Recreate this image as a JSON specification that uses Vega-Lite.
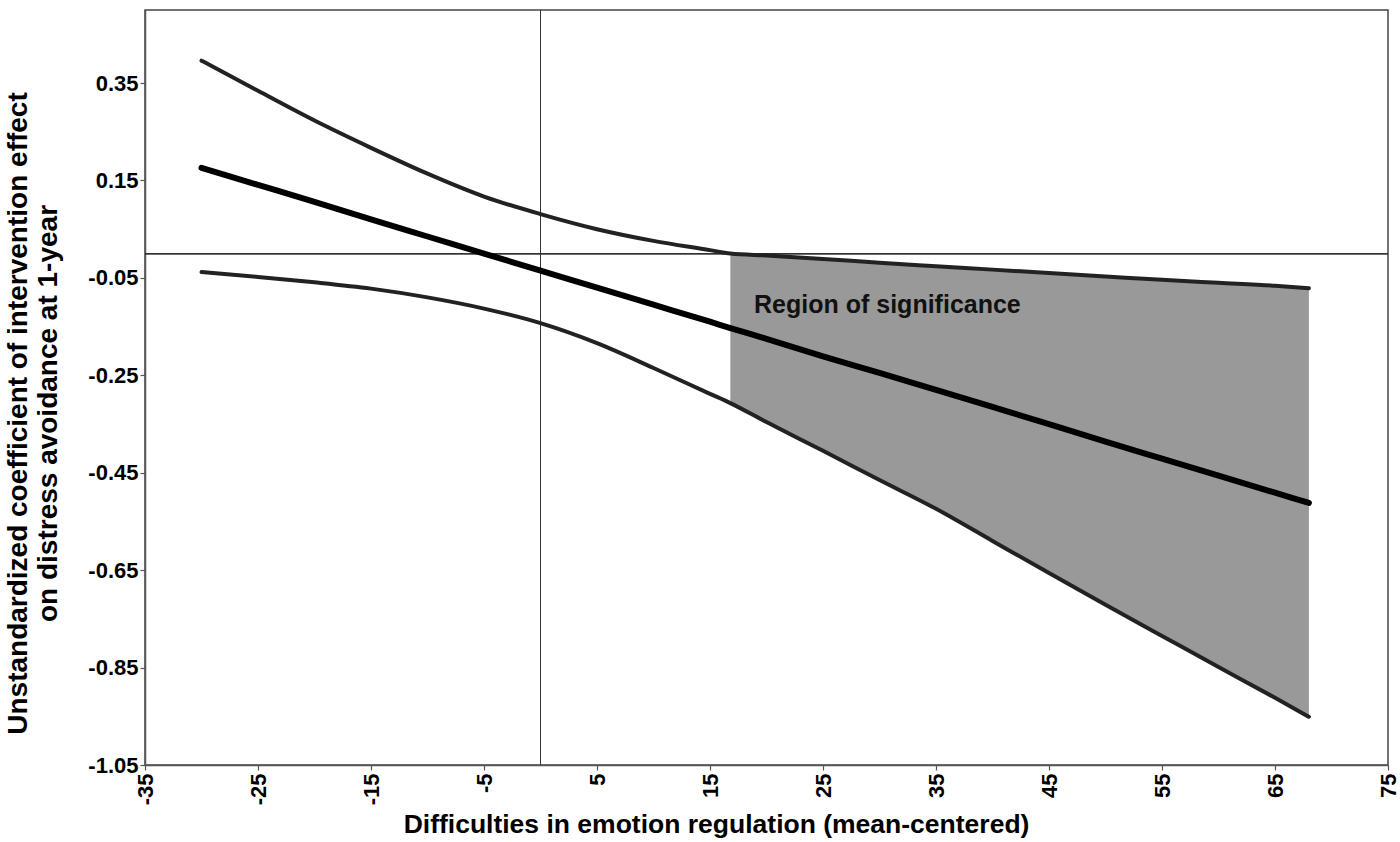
{
  "$schema": "https://vega.github.io/schema/vega-lite/v6.json",
  "width": 1243,
  "height": 755,
  "autosize": {"type": "none"},
  "padding": {"left": 145, "top": 10, "right": 12, "bottom": 77},
  "background": "white",
  "config": {
    "font": "Liberation Sans",
    "view": {"stroke": "#444", "strokeWidth": 1.5},
    "axis": {
      "grid": false,
      "domainColor": "#555",
      "domainWidth": 1.5,
      "tickColor": "#555",
      "tickWidth": 1.2,
      "tickSize": 5,
      "labelFont": "Liberation Sans",
      "labelFontWeight": "bold",
      "labelFontSize": 22,
      "labelColor": "black",
      "titleFont": "Liberation Sans",
      "titleFontWeight": "bold",
      "titleFontSize": 26.5,
      "titleColor": "black"
    }
  },
  "data": {
    "values": [
      {"x": -30, "center": 0.176, "lower": -0.038, "upper": 0.396},
      {"x": -25, "center": 0.141, "lower": -0.048, "upper": 0.334},
      {"x": -20, "center": 0.106, "lower": -0.059, "upper": 0.273},
      {"x": -15, "center": 0.070, "lower": -0.072, "upper": 0.217},
      {"x": -10, "center": 0.035, "lower": -0.090, "upper": 0.164},
      {"x": -5, "center": 0.000, "lower": -0.113, "upper": 0.117},
      {"x": 0, "center": -0.035, "lower": -0.143, "upper": 0.081},
      {"x": 5, "center": -0.070, "lower": -0.184, "upper": 0.050},
      {"x": 10, "center": -0.105, "lower": -0.235, "upper": 0.026},
      {"x": 15, "center": -0.140, "lower": -0.288, "upper": 0.007},
      {"x": 16.8, "center": -0.153, "lower": -0.307, "upper": 0.000},
      {"x": 20, "center": -0.175, "lower": -0.346, "upper": -0.004},
      {"x": 25, "center": -0.211, "lower": -0.405, "upper": -0.011},
      {"x": 30, "center": -0.245, "lower": -0.465, "upper": -0.019},
      {"x": 35, "center": -0.280, "lower": -0.524, "upper": -0.026},
      {"x": 40, "center": -0.315, "lower": -0.590, "upper": -0.033},
      {"x": 45, "center": -0.350, "lower": -0.656, "upper": -0.040},
      {"x": 50, "center": -0.386, "lower": -0.721, "upper": -0.047},
      {"x": 55, "center": -0.421, "lower": -0.785, "upper": -0.054},
      {"x": 60, "center": -0.456, "lower": -0.849, "upper": -0.060},
      {"x": 65, "center": -0.491, "lower": -0.912, "upper": -0.066},
      {"x": 68, "center": -0.512, "lower": -0.951, "upper": -0.071}
    ]
  },
  "encoding": {
    "x": {
      "field": "x",
      "type": "quantitative",
      "scale": {"domain": [-35, 75], "nice": false, "zero": false},
      "axis": {
        "values": [-35, -25, -15, -5, 5, 15, 25, 35, 45, 55, 65, 75],
        "labelExpr": "replace(format(datum.value, 'd'), '\u2212', '-')",
        "labelAngle": -90,
        "labelPadding": 3,
        "title": "Difficulties in emotion regulation (mean-centered)",
        "titleX": 571,
        "titleY": 46,
        "titleBaseline": "top"
      }
    }
  },
  "layer": [
    {
      "transform": [{"filter": "datum.x >= 16.8"}],
      "mark": {"type": "area", "color": "#999999", "opacity": 1, "interpolate": "monotone"},
      "encoding": {
        "y": {
          "field": "lower",
          "type": "quantitative",
          "scale": {"domain": [-1.05, 0.5], "nice": false, "zero": false},
          "axis": {
            "values": [-1.05, -0.85, -0.65, -0.45, -0.25, -0.05, 0.15, 0.35],
            "labelExpr": "replace(format(datum.value, '.2f'), '\u2212', '-')",
            "labelPadding": 2,
            "title": ["Unstandardized coefficient of intervention effect", "on distress avoidance at 1-year"],
            "titleFontSize": 28,
            "titleY": 403,
            "titleX": -113,
            "titleLineHeight": 30
          }
        },
        "y2": {"field": "upper"}
      }
    },
    {
      "mark": {"type": "rule", "color": "#333", "strokeWidth": 1},
      "encoding": {"x": {"datum": 0}}
    },
    {
      "mark": {"type": "rule", "color": "#333", "strokeWidth": 1},
      "encoding": {"y": {"datum": 0}, "x": null}
    },
    {
      "mark": {"type": "line", "color": "#222", "strokeWidth": 4, "strokeCap": "round", "interpolate": "monotone"},
      "encoding": {"y": {"field": "upper", "type": "quantitative"}}
    },
    {
      "mark": {"type": "line", "color": "#222", "strokeWidth": 4, "strokeCap": "round", "interpolate": "monotone"},
      "encoding": {"y": {"field": "lower", "type": "quantitative"}}
    },
    {
      "mark": {"type": "line", "color": "black", "strokeWidth": 6, "strokeCap": "round", "interpolate": "monotone"},
      "encoding": {"y": {"field": "center", "type": "quantitative"}}
    },
    {
      "data": {"values": [{"x": 18.9, "y": -0.105, "label": "Region of significance"}]},
      "mark": {"type": "text", "align": "left", "baseline": "middle", "fontSize": 25, "fontWeight": "bold", "font": "Liberation Sans", "color": "#111"},
      "encoding": {
        "y": {"field": "y", "type": "quantitative"},
        "text": {"field": "label"}
      }
    }
  ]
}
